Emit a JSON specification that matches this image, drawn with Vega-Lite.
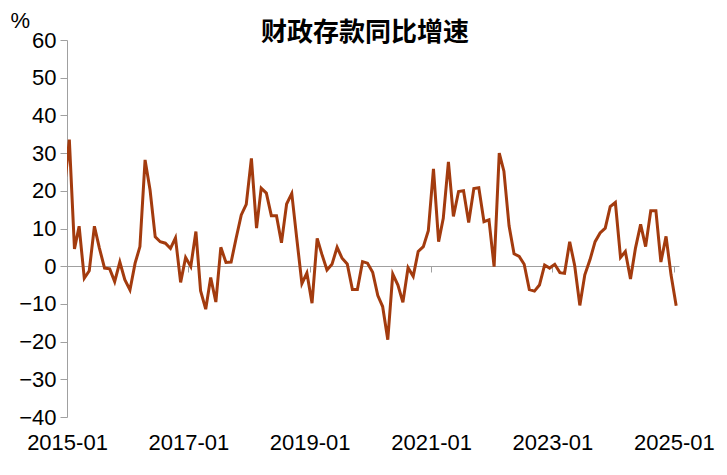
{
  "$schema": "https://vega.github.io/schema/vega-lite/v6.json",
  "width": 612,
  "height": 377,
  "autosize": {"type": "none"},
  "padding": {"left": 67, "top": 40, "right": 48, "bottom": 58},
  "background": "white",
  "config": {"view": {"stroke": null}, "font": "Liberation Sans"},
  "title": {"text": "财政存款同比增速", "font": "Noto Sans CJK SC", "fontSize": 26, "fontWeight": "bold", "color": "#000000", "anchor": "middle", "dx": -8, "offset": -37},
  "data": {"values": [
    {"date": "2014-12-15", "value": 20},
    {"date": "2015-01-15", "value": 33.6},
    {"date": "2015-02-15", "value": 4.6},
    {"date": "2015-03-15", "value": 10.6},
    {"date": "2015-04-15", "value": -3.2},
    {"date": "2015-05-15", "value": -1.2},
    {"date": "2015-06-15", "value": 10.6},
    {"date": "2015-07-15", "value": 4.8},
    {"date": "2015-08-15", "value": -0.5},
    {"date": "2015-09-15", "value": -0.7},
    {"date": "2015-10-15", "value": -4.1},
    {"date": "2015-11-15", "value": 1.1},
    {"date": "2015-12-15", "value": -3.6},
    {"date": "2016-01-15", "value": -6.3},
    {"date": "2016-02-15", "value": 0.8},
    {"date": "2016-03-15", "value": 5.2},
    {"date": "2016-04-15", "value": 28.2},
    {"date": "2016-05-15", "value": 20.2},
    {"date": "2016-06-15", "value": 7.8},
    {"date": "2016-07-15", "value": 6.5},
    {"date": "2016-08-15", "value": 6.1},
    {"date": "2016-09-15", "value": 4.7},
    {"date": "2016-10-15", "value": 7.5},
    {"date": "2016-11-15", "value": -4.3},
    {"date": "2016-12-15", "value": 2.3},
    {"date": "2017-01-15", "value": -0.1},
    {"date": "2017-02-15", "value": 9.2},
    {"date": "2017-03-15", "value": -6.5},
    {"date": "2017-04-15", "value": -11.4},
    {"date": "2017-05-15", "value": -3.0},
    {"date": "2017-06-15", "value": -9.5},
    {"date": "2017-07-15", "value": 5.0},
    {"date": "2017-08-15", "value": 1.0},
    {"date": "2017-09-15", "value": 1.1},
    {"date": "2017-10-15", "value": 7.4},
    {"date": "2017-11-15", "value": 13.6},
    {"date": "2017-12-15", "value": 16.4},
    {"date": "2018-01-15", "value": 28.6},
    {"date": "2018-02-15", "value": 10.1},
    {"date": "2018-03-15", "value": 20.7},
    {"date": "2018-04-15", "value": 19.4},
    {"date": "2018-05-15", "value": 13.4},
    {"date": "2018-06-15", "value": 13.4},
    {"date": "2018-07-15", "value": 6.2},
    {"date": "2018-08-15", "value": 16.5},
    {"date": "2018-09-15", "value": 19.3},
    {"date": "2018-10-15", "value": 7.4},
    {"date": "2018-11-15", "value": -4.6},
    {"date": "2018-12-15", "value": -1.8},
    {"date": "2019-01-15", "value": -9.8},
    {"date": "2019-02-15", "value": 7.4},
    {"date": "2019-03-15", "value": 3.2},
    {"date": "2019-04-15", "value": -1.0},
    {"date": "2019-05-15", "value": 0.5},
    {"date": "2019-06-15", "value": 5.0},
    {"date": "2019-07-15", "value": 2.1},
    {"date": "2019-08-15", "value": 0.6},
    {"date": "2019-09-15", "value": -6.2},
    {"date": "2019-10-15", "value": -6.2},
    {"date": "2019-11-15", "value": 1.2},
    {"date": "2019-12-15", "value": 0.8},
    {"date": "2020-01-15", "value": -1.6},
    {"date": "2020-02-15", "value": -7.8},
    {"date": "2020-03-15", "value": -10.7},
    {"date": "2020-04-15", "value": -19.5},
    {"date": "2020-05-15", "value": -2.1},
    {"date": "2020-06-15", "value": -5.0},
    {"date": "2020-07-15", "value": -9.6},
    {"date": "2020-08-15", "value": -0.4},
    {"date": "2020-09-15", "value": -2.7},
    {"date": "2020-10-15", "value": 3.9},
    {"date": "2020-11-15", "value": 5.2},
    {"date": "2020-12-15", "value": 9.4},
    {"date": "2021-01-15", "value": 25.8},
    {"date": "2021-02-15", "value": 6.5},
    {"date": "2021-03-15", "value": 12.7},
    {"date": "2021-04-15", "value": 27.7},
    {"date": "2021-05-15", "value": 13.2},
    {"date": "2021-06-15", "value": 19.8},
    {"date": "2021-07-15", "value": 20.0},
    {"date": "2021-08-15", "value": 11.6},
    {"date": "2021-09-15", "value": 20.6},
    {"date": "2021-10-15", "value": 20.8},
    {"date": "2021-11-15", "value": 11.8},
    {"date": "2021-12-15", "value": 12.3},
    {"date": "2022-01-15", "value": -0.1},
    {"date": "2022-02-15", "value": 30.0},
    {"date": "2022-03-15", "value": 25.2},
    {"date": "2022-04-15", "value": 10.7},
    {"date": "2022-05-15", "value": 3.3},
    {"date": "2022-06-15", "value": 2.6},
    {"date": "2022-07-15", "value": 0.5},
    {"date": "2022-08-15", "value": -6.2},
    {"date": "2022-09-15", "value": -6.6},
    {"date": "2022-10-15", "value": -5.0},
    {"date": "2022-11-15", "value": 0.3},
    {"date": "2022-12-15", "value": -0.5},
    {"date": "2023-01-15", "value": 0.5},
    {"date": "2023-02-15", "value": -1.7},
    {"date": "2023-03-15", "value": -1.9},
    {"date": "2023-04-15", "value": 6.5},
    {"date": "2023-05-15", "value": 0.2},
    {"date": "2023-06-15", "value": -10.4},
    {"date": "2023-07-15", "value": -2.3},
    {"date": "2023-08-15", "value": 1.7},
    {"date": "2023-09-15", "value": 6.5},
    {"date": "2023-10-15", "value": 8.8},
    {"date": "2023-11-15", "value": 10.1},
    {"date": "2023-12-15", "value": 15.8},
    {"date": "2024-01-15", "value": 16.9},
    {"date": "2024-02-15", "value": 2.3},
    {"date": "2024-03-15", "value": 3.9},
    {"date": "2024-04-15", "value": -3.4},
    {"date": "2024-05-15", "value": 4.8},
    {"date": "2024-06-15", "value": 11.1},
    {"date": "2024-07-15", "value": 5.2},
    {"date": "2024-08-15", "value": 14.7},
    {"date": "2024-09-15", "value": 14.7},
    {"date": "2024-10-15", "value": 1.1},
    {"date": "2024-11-15", "value": 7.9},
    {"date": "2024-12-15", "value": -2.3},
    {"date": "2025-01-15", "value": -10.5}
  ]},
  "mark": {"type": "line", "color": "#A33B0E", "strokeWidth": 3, "clip": true},
  "encoding": {
    "x": {
      "field": "date",
      "type": "temporal",
      "scale": {"domain": [{"year": 2015, "month": 1, "date": 1}, {"year": 2025, "month": 2, "date": 1}]},
      "axis": {
        "title": null,
        "values": [
          {"year": 2015, "month": 1, "date": 1},
          {"year": 2017, "month": 1, "date": 1},
          {"year": 2019, "month": 1, "date": 1},
          {"year": 2021, "month": 1, "date": 1},
          {"year": 2023, "month": 1, "date": 1},
          {"year": 2025, "month": 1, "date": 1}
        ],
        "format": "%Y-%m",
        "offset": -151,
        "domainColor": "#a0a0a0",
        "tickColor": "#a0a0a0",
        "tickSize": 6,
        "labelPadding": 160,
        "labelFontSize": 22,
        "labelColor": "#000000",
        "labelFlush": false,
        "labelOverlap": false,
        "grid": false
      }
    },
    "y": {
      "field": "value",
      "type": "quantitative",
      "scale": {"domain": [-40, 60], "nice": false, "zero": false},
      "axis": {
        "title": "%",
        "titleAngle": 0,
        "titleX": -57,
        "titleY": -13,
        "titleAlign": "left",
        "titleBaseline": "alphabetic",
        "titleFontSize": 22,
        "titleFontWeight": "normal",
        "titleColor": "#000000",
        "values": [-40, -30, -20, -10, 0, 10, 20, 30, 40, 50, 60],
        "domainColor": "#a0a0a0",
        "tickColor": "#a0a0a0",
        "tickSize": 7,
        "labelPadding": 4,
        "labelFontSize": 22,
        "labelColor": "#000000",
        "grid": false
      }
    }
  }
}
